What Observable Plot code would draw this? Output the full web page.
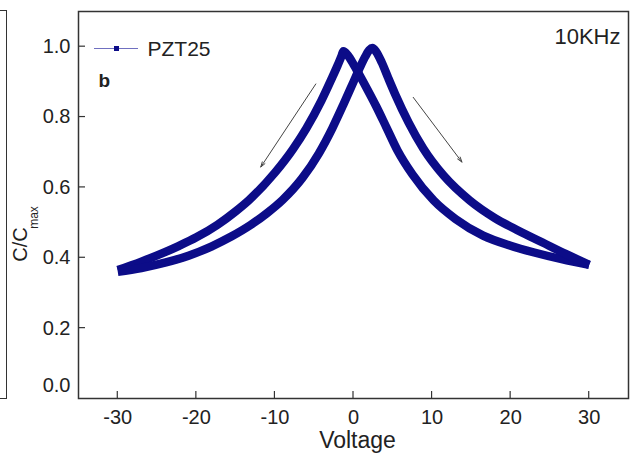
<!DOCTYPE html>
<html>
<head>
<meta charset="utf-8">
<script src="https://cdn.jsdelivr.net/npm/d3@7"></script>
<script src="https://cdn.jsdelivr.net/npm/@observablehq/plot@0.6"></script>
<style>
  html, body { margin: 0; padding: 0; background: #fff; }
  #wrap { position: relative; width: 630px; height: 453px; overflow: hidden; }
  #prev { position: absolute; left: -2px; top: 10px; width: 8px; height: 387px;
          border: 1.5px solid #333; border-left: none; }
</style>
</head>
<body>
<div id="wrap"><div id="prev"></div></div>
<script>
// Branch A (peak near -1.3 V)
const voltsA = [-30, -27, -24, -22.2, -20, -17.3, -15, -13.3, -10, -7.7, -6, -4.1, -2.8, -2.0, -1.5, -1.3, -0.7, 0, 0.8, 1.8, 2.9, 4.2, 5.6, 7.5, 10.2, 13, 16.5, 19.9, 23, 26.5, 30];
const capA  = [0.365, 0.389, 0.416, 0.434, 0.458, 0.494, 0.532, 0.564, 0.642, 0.709, 0.768, 0.846, 0.908, 0.948, 0.975, 0.987, 0.975, 0.950, 0.918, 0.877, 0.830, 0.770, 0.705, 0.637, 0.563, 0.510, 0.463, 0.435, 0.415, 0.396, 0.380];
// Branch B (peak near +2.3 V)
const voltsB = [-30, -27, -24, -21, -18.1, -15.5, -13.1, -11, -9, -6.5, -4.4, -2.7, -1.3, 0, 0.8, 1.5, 2.0, 2.4, 2.9, 3.6, 4.4, 5.3, 7, 8.9, 11.5, 14.8, 18, 21, 24, 27, 30];
const capB  = [0.360, 0.371, 0.386, 0.406, 0.432, 0.461, 0.493, 0.527, 0.565, 0.627, 0.697, 0.768, 0.835, 0.900, 0.940, 0.972, 0.990, 0.996, 0.985, 0.955, 0.912, 0.865, 0.785, 0.710, 0.633, 0.563, 0.513, 0.477, 0.444, 0.411, 0.380];

const xTicks = [-30, -20, -10, 0, 10, 20, 30];
const yTicks = [0.2, 0.4, 0.6, 0.8, 1.0];

// sweep-direction arrows
const arrowX1 = [-4.8, 7.6];
const arrowY1 = [0.894, 0.856];
const arrowX2 = [-11.8, 13.8];
const arrowY2 = [0.658, 0.672];

const seriesName = "PZT25";
const freqLabel = "10KHz";
const panelLabel = "b";

const curve = [
  ...voltsA.map((v, i) => ({branch: "A", v, c: capA[i]})),
  ...voltsB.map((v, i) => ({branch: "B", v, c: capB[i]}))
];
const arrows = arrowX1.map((x1, i) => ({x1, y1: arrowY1[i], x2: arrowX2[i], y2: arrowY2[i]}));

const navy = "#0c0c88";

function legendMark(index, scales, values, dims) {
  const g = d3.create("svg:g");
  const x0 = dims.marginLeft, y0 = dims.marginTop;
  g.append("line")
    .attr("x1", x0 + 16).attr("x2", x0 + 60)
    .attr("y1", y0 + 37.5).attr("y2", y0 + 37.5)
    .attr("stroke", "#7070c0").attr("stroke-width", 1.2);
  g.append("rect")
    .attr("x", x0 + 36).attr("y", y0 + 35).attr("width", 5).attr("height", 5)
    .attr("fill", navy);
  return g.node();
}

// inward ticks, positioned through the plot's scales
function ticksMark(index, scales, values, dims) {
  const g = d3.create("svg:g").attr("stroke", "#333").attr("stroke-width", 1.2);
  const yb = dims.height - dims.marginBottom, xl = dims.marginLeft;
  for (const t of xTicks) {
    const px = scales.x(t);
    g.append("line").attr("x1", px).attr("x2", px).attr("y1", yb).attr("y2", yb - 7);
  }
  for (const t of yTicks) {
    const py = scales.y(t);
    g.append("line").attr("x1", xl).attr("x2", xl + 7).attr("y1", py).attr("y2", py);
  }
  return g.node();
}

const chart = Plot.plot({
  width: 630,
  height: 453,
  marginLeft: 78,
  marginRight: 2,
  marginTop: 11,
  marginBottom: 55,
  style: {fontFamily: "'Liberation Sans', Arial, sans-serif", fontSize: "20px", color: "#222", background: "transparent"},
  x: {domain: [-35, 35], label: null},
  y: {domain: [0, 1.1], label: null},
  marks: [
    Plot.line(curve, {x: "v", y: "c", z: "branch", stroke: navy, strokeWidth: 8.5,
      curve: "monotone-x", strokeLinecap: "butt", strokeLinejoin: "round"}),
    Plot.arrow(arrows, {x1: "x1", y1: "y1", x2: "x2", y2: "y2", stroke: "#444",
      strokeWidth: 1, headLength: 8, headAngle: 35}),
    Plot.axisX({ticks: xTicks, tickSize: 0, tickPadding: 11, tickFormat: d => String(d),
      fill: "#222", fontSize: 20, label: null}),
    Plot.axisY({ticks: yTicks, tickSize: 0, tickPadding: 8, tickFormat: d3.format(".1f"),
      fill: "#222", fontSize: 20, label: null}),
    Plot.axisY({ticks: [0], tickSize: 0, tickPadding: 8, dy: -12.5, tickFormat: d3.format(".1f"),
      fill: "#222", fontSize: 20, label: null}),
    ticksMark,
    Plot.frame({stroke: "#333", strokeWidth: 1.5}),
    Plot.text(["Voltage"], {frameAnchor: "bottom", lineAnchor: "middle", textAnchor: "middle", dx: 4, dy: 42, fontSize: 23, fill: "#222"}),
    Plot.text(["C/C"], {frameAnchor: "left", lineAnchor: "middle", textAnchor: "middle", dx: -58, dy: 39.5, rotate: -90, fontSize: 20, fill: "#222"}),
    Plot.text(["max"], {frameAnchor: "left", lineAnchor: "middle", textAnchor: "middle", dx: -44.5, dy: 12.5, rotate: -90, fontSize: 12, fill: "#222"}),
    Plot.text([seriesName], {frameAnchor: "top-left", lineAnchor: "middle", dx: 69, dy: 37.3, textAnchor: "start", fontSize: 21, fill: "#222"}),
    Plot.text([panelLabel], {frameAnchor: "top-left", lineAnchor: "middle", dx: 20, dy: 69, textAnchor: "start", fontSize: 19, fontWeight: "bold", fill: "#222"}),
    Plot.text([freqLabel], {frameAnchor: "top-right", lineAnchor: "middle", dx: -8, dy: 25, textAnchor: "end", fontSize: 22, fill: "#222"}),
    legendMark
  ]
});
document.getElementById("wrap").appendChild(chart);
chart.style.position = "absolute";
chart.style.left = "0";
chart.style.top = "0";
</script>
</body>
</html>
